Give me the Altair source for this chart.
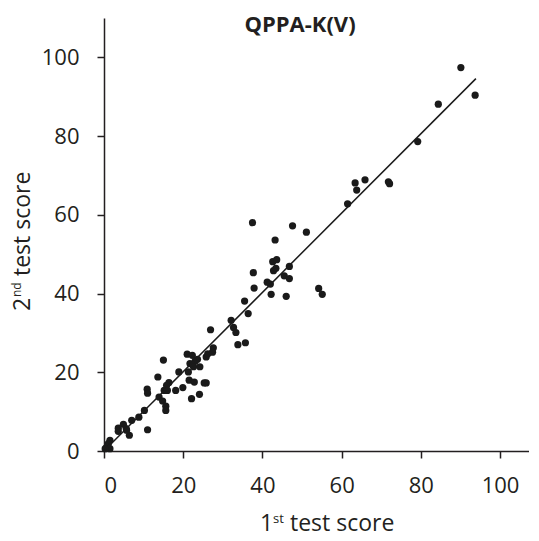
import altair as alt
import pandas as pd

# 1st test score (x) and 2nd test score (y) for each participant
first_score = [90.1, 93.7, 84.4, 79.2, 71.8, 72.1, 65.9, 63.4, 63.8, 61.5,
               37.5, 47.6, 51.1, 43.2, 42.6, 43.6, 46.8, 42.8, 43.4, 37.7,
               45.5, 46.8, 41.2, 42.0, 37.9, 42.2, 46.0, 54.2, 55.1, 35.5,
               36.4, 32.1, 26.9, 32.7, 33.3, 33.8, 35.7, 27.6, 27.4, 25.8,
               26.2, 21.0, 22.3, 21.7, 23.0, 23.6, 22.6, 24.2, 21.3, 18.9,
               15.0, 13.6, 16.4, 15.8, 21.5, 22.8, 25.3, 25.8, 19.9, 18.1,
               15.2, 16.0, 10.9, 11.0, 22.1, 24.1, 13.9, 14.8, 15.6, 15.6,
               10.2, 8.8, 7.0, 4.9, 3.6, 3.6, 5.6, 6.4, 11.0, 1.5,
               1.1, 0.7, 1.5, 0.3, 5.7]
second_score = [97.4, 90.4, 88.1, 78.6, 68.4, 67.9, 68.9, 68.1, 66.3, 62.8,
                58.0, 57.2, 55.6, 53.6, 48.1, 48.6, 46.9, 45.8, 46.4, 45.3,
                44.5, 43.8, 42.9, 42.4, 41.4, 39.8, 39.3, 41.3, 39.8, 38.1,
                34.9, 33.2, 30.8, 31.4, 30.1, 27.0, 27.5, 26.2, 25.1, 23.9,
                24.7, 24.6, 24.3, 22.2, 22.8, 23.3, 21.4, 21.4, 20.1, 20.1,
                23.1, 18.8, 17.4, 16.7, 18.0, 17.5, 17.3, 17.3, 16.1, 15.4,
                15.4, 15.4, 15.7, 14.7, 13.3, 14.4, 13.7, 12.7, 11.4, 10.3,
                10.3, 8.6, 7.8, 6.8, 5.8, 5.0, 5.7, 4.0, 5.4, 2.7,
                1.9, 1.0, 0.6, 0.6, 5.3]

# fitted line end points
fit_x = [0.3, 93.9]
fit_y = [0.3, 94.6]

x_ticks = [0, 20, 40, 60, 80, 100]
y_ticks = [0, 20, 40, 60, 80, 100]

title_text = "QPPA-K(V)"

FONT = "Open Sans"
INK = "#231f20"

pts = pd.DataFrame({"x": first_score, "y": second_score})
fit = pd.DataFrame({"x": fit_x, "y": fit_y})

xscale = alt.Scale(domain=[0, 107.3], nice=False, zero=True)
yscale = alt.Scale(domain=[0, 110], nice=False, zero=True)

xaxis = alt.Axis(values=x_ticks, title=None, grid=False, domainColor=INK,
                 domainWidth=1.5, tickColor=INK, tickWidth=1.5, tickSize=7,
                 labelFont=FONT, labelFontSize=22, labelColor=INK,
                 labelPadding=17)
yaxis = alt.Axis(values=y_ticks, title=None, grid=False, domainColor=INK,
                 domainWidth=1.5, tickColor=INK, tickWidth=1.5, tickSize=7,
                 labelFont=FONT, labelFontSize=22, labelColor=INK,
                 labelPadding=18)

points = alt.Chart(pts).mark_circle(size=52, color="#1a1a1a", opacity=1).encode(
    x=alt.X("x:Q", scale=xscale, axis=xaxis),
    y=alt.Y("y:Q", scale=yscale, axis=yaxis),
)

line = alt.Chart(fit).mark_line(color="#1a1a1a", strokeWidth=1.5).encode(
    x=alt.X("x:Q", scale=xscale),
    y=alt.Y("y:Q", scale=yscale),
)

one = pd.DataFrame({"a": [0]})


def label(text, x, y, size, angle=0, weight="normal", align="left"):
    return alt.Chart(one).mark_text(
        text=text, font=FONT, fontSize=size, fontWeight=weight, color=INK,
        align=align, baseline="alphabetic", angle=angle,
    ).encode(x=alt.value(x), y=alt.value(y))


texts = [
    label(title_text, 196, 14, 22, weight="bold", align="center"),
    # x axis title: 1st test score
    label("1", 156, 513, 23),
    label("st", 169, 505, 13),
    label("test score", 186, 513, 23),
    # y axis title: 2nd test score (rotated)
    label("2", -74, 293, 23, angle=270),
    label("nd", -83, 279, 12, angle=270),
    label("test score", -74, 258, 23, angle=270),
]

chart = alt.layer(points, line, *texts).properties(
    width=425,
    height=433,
    autosize=alt.AutoSizeParams(type="none"),
    padding={"left": 96, "top": 10, "right": 0, "bottom": 82},
).configure_view(stroke=None)

chart.save("out.html", embed_options={"renderer": "svg", "actions": False})
